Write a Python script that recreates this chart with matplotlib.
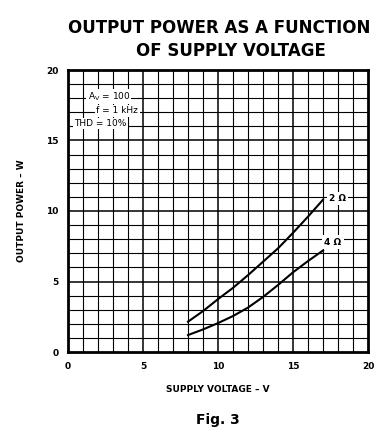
import numpy as np
from matplotlib import pyplot as plt

# Curves
volts = [8, 9, 10, 11, 12, 13, 14, 15, 16, 17]
power_2ohm = [2.15, 2.9, 3.75, 4.55, 5.45, 6.4, 7.35, 8.45, 9.6, 10.8]
power_4ohm = [1.2, 1.6, 2.05, 2.55, 3.15, 3.9, 4.75, 5.65, 6.45, 7.2]
x_ticks = [0, 5, 10, 15, 20]
y_ticks = [0, 5, 10, 15, 20]

plt.rcParams['font.family'] = ['DejaVu Sans']

fig = plt.figure(figsize=(3.92, 4.45), dpi=100)
ax = fig.add_axes([68/392, 1-352/445, 300/392, 282/445])

# grid every unit, a bit heavier every five
for v in range(1, 20):
    lw = 1.1 if v % 5 == 0 else 0.8
    ax.axvline(v, color='black', lw=lw, zorder=1)
    ax.axhline(v, color='black', lw=lw, zorder=1)

ax.plot(volts, power_2ohm, color='black', lw=1.5, zorder=3)
ax.plot(volts, power_4ohm, color='black', lw=1.5, zorder=3)

ax.text(17.4, 10.9, "2 Ω", fontsize=6.5, fontweight='bold', ha='left', va='center',
        bbox=dict(facecolor='white', edgecolor='none', pad=1.5), zorder=4)
ax.text(17.1, 7.8, "4 Ω", fontsize=6.5, fontweight='bold', ha='left', va='center',
        bbox=dict(facecolor='white', edgecolor='none', pad=1.5), zorder=4)

# test conditions
ax.text(1.3, 18.1, "A$_\\mathregular{V}$ = 100", fontsize=6.5, ha='left', va='center',
        bbox=dict(facecolor='white', edgecolor='none', pad=1), zorder=4)
ax.text(1.9, 17.1, "f = 1 kHz", fontsize=6.5, ha='left', va='center',
        bbox=dict(facecolor='white', edgecolor='none', pad=1), zorder=4)
ax.text(0.4, 16.2, "THD = 10%", fontsize=6.5, ha='left', va='center',
        bbox=dict(facecolor='white', edgecolor='none', pad=1), zorder=4)

ax.set_xlim(0, 20)
ax.set_ylim(0, 20)
ax.set_xticks(x_ticks)
ax.set_yticks(y_ticks)
ax.tick_params(length=0, labelsize=6.5, pad=7)
for lab in ax.get_xticklabels() + ax.get_yticklabels():
    lab.set_fontweight('bold')
for s in ax.spines.values():
    s.set_linewidth(2)

ax.set_xlabel("SUPPLY VOLTAGE – V", fontsize=6.5, fontweight='bold', labelpad=10)
ax.set_ylabel("OUTPUT POWER – W", fontsize=6.5, fontweight='bold', labelpad=14)

fig.text(0.559, 0.937, "OUTPUT POWER AS A FUNCTION", fontsize=12, fontweight='bold',
         ha='center', va='center')
fig.text(0.589, 0.885, "OF SUPPLY VOLTAGE", fontsize=12, fontweight='bold',
         ha='center', va='center')
fig.text(0.555, 0.057, "Fig. 3", fontsize=10, fontweight='bold', ha='center', va='center')

plt.savefig("out.png", dpi=100)
